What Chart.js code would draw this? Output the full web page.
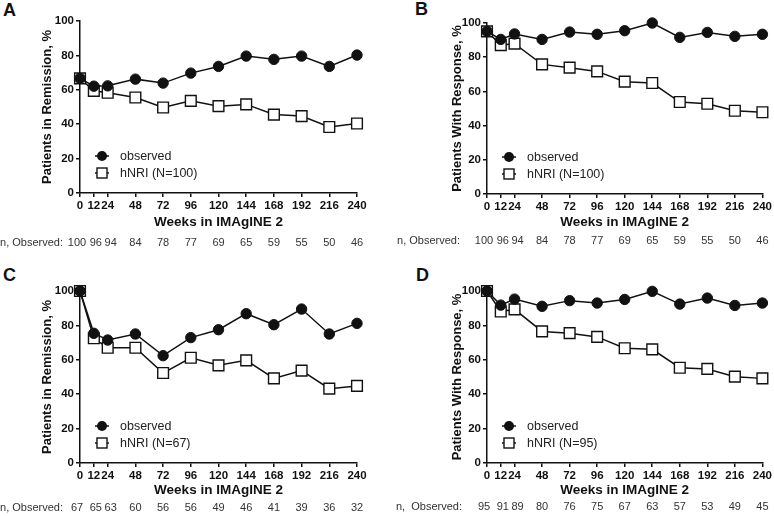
<!DOCTYPE html>
<html>
<head>
<meta charset="utf-8">
<script src="https://cdn.jsdelivr.net/npm/chart.js@4/dist/chart.umd.min.js"></script>
<style>
  body { margin: 0; background: #fff; }
  #wrap { position: relative; width: 774px; height: 516px; overflow: hidden; font-family: "Liberation Sans", Arial, sans-serif; }
  canvas { position: absolute; }
  .tag { position: absolute; font: bold 18px "Liberation Sans", Arial, sans-serif; color: #111; }
</style>
</head>
<body>
<div id="wrap">
  <div class="tag" style="left:3px;top:0px">A</div>
  <div class="tag" style="left:415px;top:-1px">B</div>
  <div class="tag" style="left:3px;top:265px">C</div>
  <div class="tag" style="left:416px;top:265px">D</div>
  <canvas id="cA" width="387" height="258" style="left:0;top:0"></canvas>
  <canvas id="cB" width="387" height="258" style="left:387px;top:0"></canvas>
  <canvas id="cC" width="387" height="258" style="left:0;top:258px"></canvas>
  <canvas id="cD" width="387" height="258" style="left:387px;top:258px"></canvas>
</div>
<script>
const weeks = [0, 12, 24, 48, 72, 96, 120, 144, 168, 192, 216, 240];

// A: remission, all patients
const remObsA = [66.6, 62.1, 62.3, 66.2, 63.9, 69.7, 73.6, 79.6, 77.7, 79.6, 73.6, 80.2];
const remNriA = [66.6, 59.4, 58.3, 55.5, 49.7, 53.6, 50.5, 51.5, 45.6, 44.7, 38.4, 40.4];
const nObsA = [100, 96, 94, 84, 78, 77, 69, 65, 59, 55, 50, 46];

// B: response, all patients
const respObsB = [95.1, 90.4, 93.6, 90.4, 94.7, 93.4, 95.5, 100, 91.6, 94.5, 92.2, 93.4];
const respNriB = [95.1, 87.1, 87.9, 75.8, 73.9, 71.7, 65.7, 64.9, 53.8, 52.8, 48.7, 47.8];
const nObsB = [100, 96, 94, 84, 78, 77, 69, 65, 59, 55, 50, 46];

// C: remission, remitters at baseline
const remObsC = [100, 75.4, 71.5, 75.0, 62.4, 72.9, 77.5, 86.8, 80.4, 89.5, 75.0, 81.2];
const remNriC = [100, 72.5, 67.0, 67.0, 52.3, 61.2, 56.8, 59.7, 49.2, 53.7, 43.2, 44.8];
const nObsC = [67, 65, 63, 60, 56, 56, 49, 46, 41, 39, 36, 32];

// D: response, responders at baseline
const respObsD = [100, 91.8, 95.3, 91.1, 94.4, 93.0, 95.1, 99.8, 92.4, 95.9, 91.6, 93.0];
const respNriD = [100, 88.1, 89.3, 76.5, 75.5, 73.3, 66.7, 66.1, 55.4, 54.7, 50.2, 49.2];
const nObsD = [95, 91, 89, 80, 76, 75, 67, 63, 57, 53, 49, 45];

const FONT = '"Liberation Sans", Arial, sans-serif';
// the first three counts sit close together, nudge them apart a little
const rowNudge = [-3, 2, 3];

const extras = {
  id: 'extras',
  afterDraw(chart, args, o) {
    const ctx = chart.ctx;
    const xs = chart.scales.x;
    const area = chart.chartArea;
    ctx.save();

    // legend inside plot, lower left
    const lx = area.left + 22;
    const rows = [
      { y: area.bottom - 37, label: 'observed', circle: true },
      { y: area.bottom - 20, label: o.nriLabel, circle: false }
    ];
    rows.forEach(r => {
      ctx.strokeStyle = '#111';
      ctx.lineWidth = 1.5;
      ctx.beginPath();
      ctx.moveTo(lx - 7, r.y);
      ctx.lineTo(lx + 7, r.y);
      ctx.stroke();
      if (r.circle) {
        ctx.fillStyle = '#111';
        ctx.beginPath();
        ctx.arc(lx, r.y, 5, 0, Math.PI * 2);
        ctx.fill();
      } else {
        ctx.fillStyle = '#fff';
        ctx.lineWidth = 1.4;
        ctx.fillRect(lx - 5, r.y - 5, 10, 10);
        ctx.strokeRect(lx - 5, r.y - 5, 10, 10);
      }
      ctx.fillStyle = '#222';
      ctx.font = '12.5px ' + FONT;
      ctx.textAlign = 'left';
      ctx.textBaseline = 'middle';
      ctx.fillText(r.label, lx + 18, r.y + 1);
    });

    // n, Observed row
    ctx.font = '11px ' + FONT;
    ctx.fillStyle = '#333';
    ctx.textBaseline = 'middle';
    ctx.textAlign = 'right';
    ctx.fillText(o.rowLabel, o.rowLabelRight, o.rowY);
    ctx.textAlign = 'center';
    o.counts.forEach((n, i) => {
      ctx.fillText(String(n), xs.getPixelForValue(weeks[i]) + (rowNudge[i] || 0), o.rowY);
    });
    ctx.restore();
  }
};

function makePanel(id, obs, nri, counts, p) {
  new Chart(document.getElementById(id), {
    type: 'line',
    data: {
      datasets: [
        {
          label: 'observed',
          data: weeks.map((w, i) => ({ x: w, y: obs[i] })),
          borderColor: '#111',
          backgroundColor: '#111',
          borderWidth: 1.5,
          pointStyle: 'circle',
          pointRadius: 5.2,
          pointBorderWidth: 1,
          clip: false
        },
        {
          label: p.nriLabel,
          data: weeks.map((w, i) => ({ x: w, y: nri[i] })),
          borderColor: '#111',
          backgroundColor: '#fff',
          borderWidth: 1.5,
          pointStyle: 'rect',
          pointRadius: 7.6,
          pointBorderWidth: 1.4,
          clip: false
        }
      ]
    },
    options: {
      responsive: false,
      animation: false,
      events: [],
      layout: { padding: { left: p.padLeft, top: p.top, right: 387 - p.right, bottom: p.padBottom } },
      plugins: {
        legend: { display: false },
        tooltip: { enabled: false },
        extras: {
          nriLabel: p.nriLabel,
          counts: counts,
          rowLabel: p.rowLabel,
          rowLabelRight: p.rowLabelRight,
          rowY: p.rowY
        }
      },
      scales: {
        x: {
          type: 'linear',
          min: 0,
          max: 240,
          afterBuildTicks: s => { s.ticks = weeks.map(v => ({ value: v })); },
          afterFit: s => { s.height = p.xHeight; },
          border: { color: '#111', width: 1.5 },
          grid: { drawOnChartArea: false, drawTicks: true, tickLength: 4, color: '#111', lineWidth: 1.5 },
          ticks: { color: '#111', padding: 2, maxRotation: 0, autoSkip: false, font: { family: FONT, size: 11.5, weight: 'bold' } },
          title: { display: true, text: 'Weeks in IMAgINE 2', color: '#111', padding: { top: 2, bottom: 4 }, font: { family: FONT, size: 13.5, weight: 'bold' } }
        },
        y: {
          min: 0,
          max: 100,
          afterBuildTicks: s => { s.ticks = [0, 20, 40, 60, 80, 100].map(v => ({ value: v })); },
          afterFit: s => { s.width = p.left - p.padLeft; },
          border: { color: '#111', width: 1.5 },
          grid: { drawOnChartArea: false, drawTicks: true, tickLength: 4, color: '#111', lineWidth: 1.5 },
          ticks: { color: '#111', padding: 2, font: { family: FONT, size: 11.5, weight: 'bold' } },
          title: { display: true, text: p.yTitle, color: '#111', padding: { top: 4, bottom: 4 }, font: { family: FONT, size: 13, weight: 'bold' } }
        }
      }
    },
    plugins: [extras]
  });
}

makePanel('cA', remObsA, remNriA, nObsA, {
  nriLabel: 'hNRI (N=100)', yTitle: 'Patients in Remission, %',
  padLeft: 36, left: 80, right: 357, top: 21, xHeight: 41, padBottom: 24,
  rowLabel: 'n, Observed:', rowLabelRight: 63, rowY: 243
});
makePanel('cB', respObsB, respNriB, nObsB, {
  nriLabel: 'hNRI (N=100)', yTitle: 'Patients With Response, %',
  padLeft: 59, left: 100, right: 377, top: 23, xHeight: 40, padBottom: 24,
  rowLabel: 'n, Observed:', rowLabelRight: 73, rowY: 241
});
makePanel('cC', remObsC, remNriC, nObsC, {
  nriLabel: 'hNRI (N=67)', yTitle: 'Patients in Remission, %',
  padLeft: 36, left: 80, right: 357, top: 33, xHeight: 39, padBottom: 14,
  rowLabel: 'n, Observed:', rowLabelRight: 63, rowY: 250
});
makePanel('cD', respObsD, respNriD, nObsD, {
  nriLabel: 'hNRI (N=95)', yTitle: 'Patients With Response, %',
  padLeft: 59, left: 100, right: 377, top: 33, xHeight: 39, padBottom: 14,
  rowLabel: 'n,  Observed:', rowLabelRight: 75, rowY: 249
});
</script>
</body>
</html>
